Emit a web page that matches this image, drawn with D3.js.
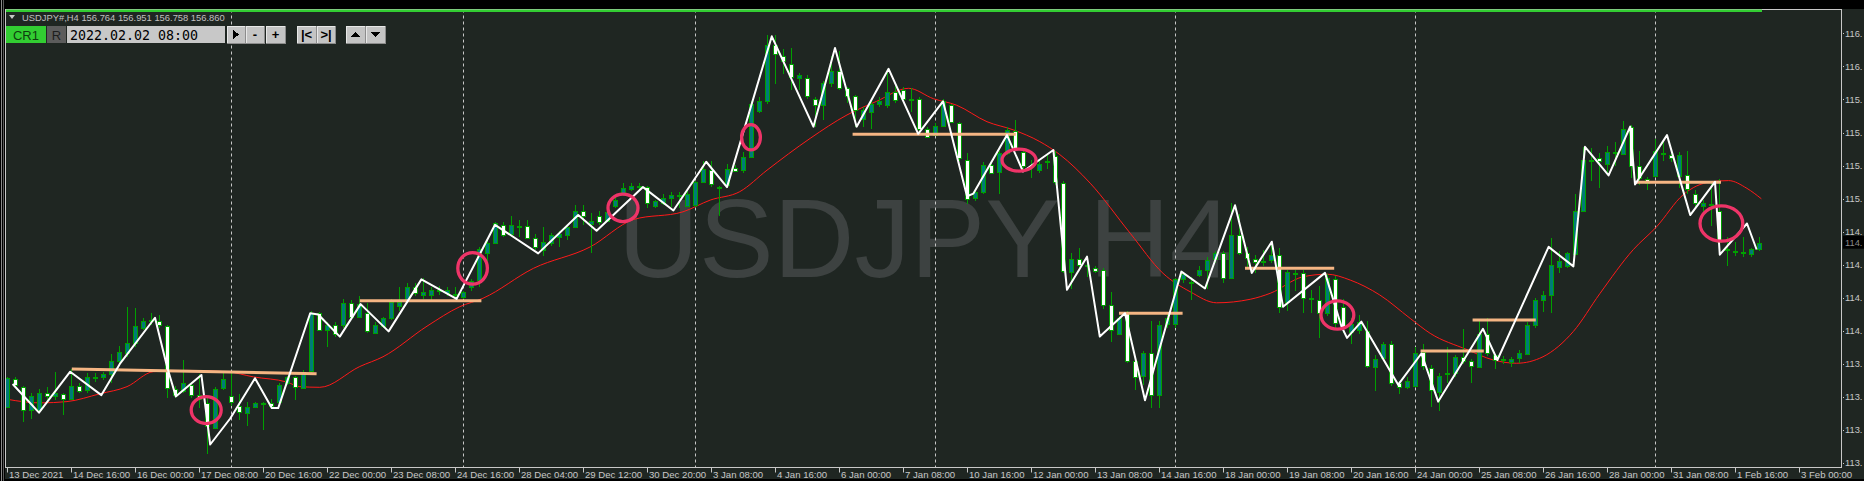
<!DOCTYPE html>
<html><head><meta charset="utf-8">
<script src="https://cdn.jsdelivr.net/npm/d3@7"></script>
<style>html,body{margin:0;padding:0;background:#000;overflow:hidden}svg{display:block}</style>
</head><body>
<svg id="c" width="1864" height="481"></svg>
<script>
// ---------------- DATA ----------------
const symbolHeader = "USDJPY#,H4  156.764 156.951 156.758 156.860";
const watermark = "USDJPY H4";
const replayDate = "2022.02.02 08:00";

const opens = [113.49,113.70,113.64,113.46,113.47,113.60,113.58,113.59,113.55,113.65,
113.62,113.72,113.72,113.74,113.84,113.90,113.98,114.10,114.15,114.15,
114.11,113.63,113.61,113.66,113.58,113.52,113.33,113.63,113.57,113.50,
113.44,113.49,113.52,113.52,113.53,113.67,113.72,113.63,113.76,114.21,
114.08,114.12,114.12,114.29,114.18,114.21,114.06,114.11,114.18,114.27,
114.31,114.41,114.35,114.35,114.39,114.37,114.35,114.33,114.41,114.46,
114.67,114.75,114.89,114.82,114.88,114.88,114.79,114.70,114.75,114.80,
114.81,114.88,115.00,114.90,114.96,114.92,115.03,115.12,115.17,115.18,
115.18,115.03,115.06,115.10,115.12,115.04,115.04,115.22,115.31,115.18,
115.20,115.33,115.31,115.41,115.76,115.84,116.27,116.19,116.13,116.02,
116.02,115.86,115.81,115.98,116.07,115.94,115.88,115.70,115.76,115.82,
115.81,115.91,115.93,115.86,115.86,115.63,115.58,115.65,115.81,115.67,
115.39,115.09,115.14,115.35,115.29,115.44,115.61,115.45,115.34,115.31,
115.37,115.42,115.21,114.53,114.63,114.58,114.56,114.54,114.27,114.05,
114.21,113.84,113.72,113.90,113.58,114.12,114.12,114.47,114.45,114.50,
114.54,114.62,114.67,114.48,114.81,114.67,114.63,114.61,114.62,114.66,
114.30,114.52,114.52,114.33,114.31,114.21,114.47,114.26,114.07,114.08,
114.07,113.80,113.86,113.97,113.67,113.64,113.65,113.91,113.79,113.61,
113.74,113.75,113.87,113.84,113.80,114.05,113.89,113.85,113.84,113.86,
113.90,114.12,114.31,114.35,114.56,114.57,114.67,115.00,115.39,115.40,
115.36,115.44,115.44,115.64,115.34,115.24,115.27,115.44,115.43,115.27,
115.27,115.13,115.04,115.04,115.00,114.69,114.68,114.68,114.66,114.70];

const highs = [113.72,113.72,113.65,113.60,113.63,113.64,113.76,113.60,113.78,113.67,
113.75,113.75,113.76,113.90,113.96,114.26,114.25,114.17,114.21,114.20,
114.12,113.65,113.85,113.68,113.74,113.56,113.64,113.75,113.76,113.59,
113.53,113.53,113.53,113.55,113.67,113.73,113.73,113.77,114.23,114.22,
114.14,114.14,114.32,114.31,114.34,114.29,114.14,114.18,114.32,114.41,
114.44,114.44,114.48,114.41,114.42,114.41,114.41,114.38,114.47,114.72,
114.77,114.91,114.91,114.96,114.93,114.93,114.82,114.87,114.83,114.84,
114.89,115.04,115.04,114.98,115.00,115.01,115.11,115.21,115.21,115.21,
115.19,115.08,115.13,115.14,115.14,115.15,115.23,115.38,115.38,115.19,
115.36,115.35,115.45,115.84,115.87,116.35,116.35,116.24,116.25,116.06,
116.04,115.87,116.00,116.19,116.23,115.95,115.89,115.80,115.85,115.87,
116.09,115.96,115.95,115.94,115.87,115.64,115.67,115.86,115.82,115.68,
115.44,115.15,115.37,115.37,115.46,115.64,115.70,115.46,115.39,115.40,
115.43,115.46,115.23,114.67,114.71,114.65,114.57,114.56,114.37,114.19,
114.23,113.85,113.92,114.15,114.15,114.21,114.48,114.52,114.49,114.57,
114.64,114.69,114.69,115.06,114.97,114.72,114.66,114.70,114.75,114.71,
114.54,114.54,114.54,114.39,114.42,114.51,114.50,114.32,114.17,114.20,
114.15,113.89,113.99,114.00,113.69,113.72,113.95,113.97,113.81,113.75,
113.95,113.89,114.09,113.86,114.15,114.17,113.90,113.88,113.87,113.93,
114.14,114.33,114.38,114.79,114.69,114.68,115.13,115.49,115.48,115.44,
115.50,115.53,115.69,115.66,115.46,115.26,115.55,115.54,115.45,115.45,
115.46,115.16,115.08,115.23,115.24,114.80,114.76,114.80,114.71,114.80];

const lows = [113.48,113.64,113.37,113.40,113.44,113.52,113.54,113.43,113.54,113.60,
113.60,113.68,113.70,113.67,113.83,113.87,113.95,114.08,114.12,114.10,
113.56,113.56,113.60,113.56,113.48,113.13,113.32,113.62,113.50,113.39,
113.34,113.48,113.31,113.47,113.52,113.66,113.54,113.63,113.75,114.07,
113.95,114.03,114.10,114.17,114.17,114.06,114.05,114.10,114.16,114.23,
114.29,114.34,114.32,114.31,114.35,114.34,114.33,114.32,114.38,114.41,
114.61,114.74,114.80,114.80,114.80,114.78,114.70,114.65,114.73,114.72,
114.77,114.87,114.89,114.67,114.89,114.91,115.02,115.11,115.15,115.15,
115.02,115.02,115.04,115.03,115.02,115.03,115.03,115.21,115.18,114.96,
115.17,115.30,115.29,115.41,115.75,115.82,115.97,116.05,115.93,115.93,
115.86,115.64,115.70,115.95,115.93,115.83,115.64,115.64,115.63,115.80,
115.79,115.83,115.84,115.76,115.58,115.56,115.57,115.64,115.67,115.38,
115.05,115.07,115.13,115.28,115.13,115.43,115.47,115.32,115.25,115.29,
115.32,115.20,114.52,114.40,114.56,114.49,114.52,114.24,113.99,114.04,
113.83,113.62,113.66,113.48,113.48,114.10,114.10,114.44,114.31,114.49,
114.40,114.60,114.44,114.47,114.66,114.56,114.52,114.57,114.60,114.21,
114.23,114.38,114.21,114.21,114.02,114.19,114.10,114.06,113.97,114.05,
113.79,113.61,113.84,113.65,113.59,113.63,113.64,113.77,113.49,113.46,
113.67,113.72,113.82,113.67,113.79,113.88,113.78,113.82,113.80,113.83,
113.89,114.10,114.22,114.21,114.52,114.56,114.66,114.99,115.23,115.17,
115.27,115.34,115.43,115.25,115.20,115.16,115.26,115.38,115.37,115.17,
115.13,115.03,114.98,114.88,114.67,114.57,114.65,114.64,114.64,114.69];

const closes = [113.71,113.65,113.46,113.57,113.60,113.58,113.60,113.55,113.65,113.61,
113.72,113.72,113.74,113.84,113.91,113.98,114.11,114.15,114.16,114.12,
113.63,113.58,113.67,113.58,113.55,113.34,113.63,113.70,113.52,113.45,
113.49,113.52,113.52,113.50,113.66,113.72,113.64,113.74,114.21,114.08,
114.12,114.05,114.29,114.18,114.28,114.07,114.12,114.17,114.30,114.30,
114.41,114.36,114.37,114.39,114.39,114.39,114.36,114.37,114.46,114.70,
114.75,114.90,114.81,114.89,114.88,114.79,114.72,114.76,114.81,114.82,
114.87,115.00,114.96,114.92,114.91,114.99,115.08,115.17,115.19,115.19,
115.06,115.07,115.10,115.12,115.11,115.13,115.22,115.32,115.20,115.17,
115.32,115.31,115.41,115.82,115.84,116.27,116.20,116.15,116.03,116.04,
115.88,115.81,115.98,116.07,115.94,115.88,115.77,115.77,115.82,115.84,
115.91,115.85,115.86,115.86,115.63,115.57,115.65,115.84,115.68,115.40,
115.09,115.14,115.35,115.29,115.44,115.62,115.48,115.34,115.33,115.36,
115.38,115.22,114.53,114.63,114.58,114.57,114.54,114.27,114.08,114.17,
113.84,113.72,113.90,113.58,114.12,114.17,114.47,114.51,114.44,114.54,
114.62,114.67,114.48,114.81,114.67,114.63,114.61,114.61,114.66,114.26,
114.53,114.52,114.33,114.32,114.21,114.48,114.13,114.11,114.13,114.14,
113.80,113.86,113.97,113.67,113.64,113.69,113.90,113.80,113.62,113.73,
113.75,113.87,113.84,113.80,114.05,113.90,113.85,113.86,113.86,113.90,
114.12,114.31,114.35,114.58,114.61,114.67,115.00,115.39,115.39,115.38,
115.45,115.45,115.63,115.34,115.25,115.21,115.46,115.43,115.41,115.43,
115.16,115.06,115.06,115.05,114.76,114.70,114.69,114.67,114.70,114.75];

const xTickBars = [0,8,16,24,32,40,48,56,64,72,80,88,96,104,112,120,128,136,144,152,160,168,176,184,192,200,208,216,224];
const xTickLabels = ["13 Dec 2021","14 Dec 16:00","16 Dec 00:00","17 Dec 08:00","20 Dec 16:00","22 Dec 00:00","23 Dec 08:00","24 Dec 16:00","28 Dec 04:00","29 Dec 12:00","30 Dec 20:00","3 Jan 08:00","4 Jan 16:00","6 Jan 00:00","7 Jan 08:00","10 Jan 16:00","12 Jan 00:00","13 Jan 08:00","14 Jan 16:00","18 Jan 00:00","19 Jan 08:00","20 Jan 16:00","24 Jan 00:00","25 Jan 08:00","26 Jan 16:00","28 Jan 00:00","31 Jan 08:00","1 Feb 16:00","3 Feb 00:00"];
const separatorBars = [28,57,86,116,146,176,206];
// price-axis ticks and the (truncated) labels the terminal shows for them
const priceTicks = [116.363,116.109,115.855,115.600,115.346,115.092,114.838,114.583,114.329,114.075,113.821,113.567,113.312,113.058];
const priceTickLabels = ["116.","116.","115.","115.","115.","115.","114.","114.","114.","114.","113.","113.","113.","113."];
const lastPrice = 114.76;
const lastPriceLabel = "114.";

// white zig-zag line (bar index, price)
const zigBars = [0.7,4.0,7.9,11.8,14.1,18.5,20.0,21.1,24.3,25.4,27.9,31.0,33.1,33.9,37.9,38.9,41.6,44.2,47.7,51.8,56.2,61.0,66.4,71.4,73.7,79.5,83.3,87.4,90.0,95.6,100.8,103.5,106.2,110.2,113.9,117.0,120.0,120.8,125.0,127.0,130.8,132.5,135.0,136.6,139.75,142.25,146.8,149.75,153.5,155.6,158.1,159.5,164.75,166.8,167.5,169.3,173.9,176.8,178.9,184.5,186.3,192.7,195.8,197.25,200.2,202.9,203.5,207.5,210.4,213.5,214.1,217.5,218.7];
const zigPrices = [113.665,113.445,113.76,113.58,113.82,114.175,113.80,113.57,113.735,113.20,113.40,113.71,113.48,113.48,114.21,114.20,114.03,114.28,114.07,114.47,114.32,114.89,114.67,114.965,114.845,115.18,115.00,115.375,115.18,116.34,115.645,116.25,115.645,116.09,115.59,115.84,115.11,115.13,115.58,115.30,115.465,114.39,114.645,114.03,114.21,113.54,114.53,114.40,115.04,114.52,114.76,114.26,114.52,114.11,114.02,114.145,113.66,113.90,113.53,114.09,113.85,114.72,114.57,115.49,115.27,115.645,115.20,115.58,114.965,115.22,114.66,114.90,114.70];

// red moving-average line (bar index, price)
const maBars = [0,4.1,7.5,11.6,15.0,18.3,22.5,27.5,30.8,35.0,36.6,39.1,44.1,47.0,52.5,56.6,59.5,65.8,72.9,78.3,84.5,87.9,91.6,95.0,100.4,105.0,108.7,112.7,115.8,118.7,122.5,125.8,129.1,131.6,135.4,140.4,144.5,147.9,151.2,155.4,157.9,162.0,165.0,167.9,171.6,175.4,177.9,182.5,185.8,188.7,192.0,195.8,199.1,203.3,206.2,209.5,212.9,215.2,217.5,219.3];
const maPrices = [113.548,113.52,113.53,113.59,113.645,113.76,113.77,113.76,113.72,113.68,113.645,113.64,113.80,113.875,114.11,114.26,114.325,114.555,114.72,114.93,114.99,115.08,115.145,115.31,115.555,115.735,115.84,115.94,115.86,115.81,115.683,115.62,115.53,115.43,115.21,114.825,114.517,114.375,114.29,114.317,114.363,114.49,114.51,114.465,114.35,114.17,114.055,113.93,113.85,113.825,113.875,114.07,114.36,114.70,114.875,115.12,115.22,115.23,115.17,115.09];

// orange horizontal levels
const levelStartBars = [8.1,44.1,105.7,139.0,154.75,176.7,183.2,203.5];
const levelEndBars   = [38.7,59.3,126.1,146.95,165.9,184.6,191.1,214.25];
const levelStartPrices = [113.78,114.306,115.586,114.21,114.555,113.92,114.158,115.217];
const levelEndPrices   = [113.745,114.306,115.586,114.21,114.555,113.92,114.158,115.217];

// pink circle markers (centre)
const markerBars = [24.9,58.2,77.0,93.0,126.5,166.3,214.3];
const markerPrices = [113.465,114.555,115.02,115.563,115.388,114.196,114.90];

// ---------------- STYLE ----------------
const markerRadii = [[15,13.5],[14.8,15.8],[15,13.7],[9.4,12.6],[17,11],[16.4,14.2],[21.4,17.6]];
const C = {bg:"#1f2622", grid:"#c8c8c8", up:"#007b78", down:"#ffffff", wick:"#00a000",
  ma:"#ff1a1a", zig:"#ffffff", level:"#f5b583", marker:"#ee3468", text:"#c8c8c8", water:"#3d4241"};
const FONT = "'Liberation Sans', Arial, sans-serif";

// ---------------- DRAW ----------------
const svg = d3.select("#c");
const x = d3.scaleLinear().domain([0, 224]).range([7, 1799]);
const y = d3.scaleLinear().domain([113.0, 116.5]).range([470.5, 15.5]);
const plot = {l:5.5, r:1841.5, t:9.5, b:467.5};

svg.append("rect").attr("width",1864).attr("height",481).attr("fill",C.bg);
svg.append("rect").attr("width",1864).attr("height",9).attr("fill","#000");
svg.append("rect").attr("y",479).attr("width",1864).attr("height",2).attr("fill","#000");
svg.append("rect").attr("width",5).attr("height",481).attr("fill","#000");
svg.append("line").attr("x1",1.5).attr("x2",1.5).attr("y1",0).attr("y2",481).attr("stroke","#8a8a8a");
svg.append("line").attr("x1",3.5).attr("x2",3.5).attr("y1",0).attr("y2",481).attr("stroke","#5a5a5a");

svg.append("defs").append("clipPath").attr("id","pc").append("rect")
  .attr("x",plot.l).attr("y",plot.t).attr("width",plot.r-plot.l).attr("height",plot.b-plot.t);

// watermark
svg.append("text").attr("x",618).attr("y",277).attr("font-family",FONT).attr("font-size",112)
  .attr("fill",C.water).text(watermark);

const g = svg.append("g").attr("clip-path","url(#pc)");

// weekly separators
g.selectAll("line.sep").data(separatorBars).join("line").attr("class","sep")
  .attr("x1",d=>Math.round(x(d))+0.5).attr("x2",d=>Math.round(x(d))+0.5)
  .attr("y1",plot.t).attr("y2",plot.b).attr("stroke",C.grid).attr("stroke-dasharray","3,3");

// moving average
const maLine = d3.line().x(d=>x(d[0])).y(d=>y(d[1])).curve(d3.curveMonotoneX);
g.append("path").attr("d",maLine(maBars.map((b,i)=>[b,maPrices[i]])))
  .attr("fill","none").attr("stroke",C.ma).attr("stroke-width",1);

// candles
const bars = opens.map((o,i)=>({i,o,h:highs[i],l:lows[i],c:closes[i]}));
const cg = g.append("g").attr("shape-rendering","crispEdges");
cg.selectAll("line.w").data(bars).join("line").attr("class","w")
  .attr("x1",d=>Math.round(x(d.i))+0.5).attr("x2",d=>Math.round(x(d.i))+0.5)
  .attr("y1",d=>y(d.h)).attr("y2",d=>y(d.l)).attr("stroke",C.wick);
cg.selectAll("rect.b").data(bars).join("rect").attr("class","b")
  .attr("x",d=>Math.round(x(d.i))-2+0.5)
  .attr("y",d=>Math.round(y(Math.max(d.o,d.c)))+0.5)
  .attr("width",4)
  .attr("height",d=>Math.max(1,Math.round(Math.abs(y(d.o)-y(d.c)))))
  .attr("fill",d=>d.c>=d.o?C.up:C.down).attr("stroke",C.wick).attr("stroke-width",1);

// orange levels
g.selectAll("line.lv").data(levelStartBars).join("line").attr("class","lv")
  .attr("x1",(d)=>x(d)).attr("x2",(d,i)=>x(levelEndBars[i]))
  .attr("y1",(d,i)=>y(levelStartPrices[i])).attr("y2",(d,i)=>y(levelEndPrices[i]))
  .attr("stroke",C.level).attr("stroke-width",3);

// zig-zag
const zl = d3.line().x(d=>x(d[0])).y(d=>y(d[1]));
g.append("path").attr("d",zl(zigBars.map((b,i)=>[b,zigPrices[i]])))
  .attr("fill","none").attr("stroke",C.zig).attr("stroke-width",2).attr("stroke-linejoin","round");

// markers
g.selectAll("ellipse").data(markerBars).join("ellipse")
  .attr("cx",d=>x(d)).attr("cy",(d,i)=>y(markerPrices[i]))
  .attr("rx",(d,i)=>markerRadii[i][0]).attr("ry",(d,i)=>markerRadii[i][1])
  .attr("fill","none").attr("stroke",C.marker).attr("stroke-width",3.3);

// frame
svg.append("rect").attr("x",plot.l).attr("y",plot.t).attr("width",plot.r-plot.l).attr("height",plot.b-plot.t)
  .attr("fill","none").attr("stroke","#c8c8c8").attr("shape-rendering","crispEdges");
// top green bar
svg.append("rect").attr("x",6).attr("y",9.5).attr("width",1756).attr("height",2.5).attr("fill","#32cd32");

// x axis
const xa = svg.append("g");
xa.selectAll("line").data(xTickBars).join("line")
  .attr("x1",d=>Math.round(x(d))+0.5).attr("x2",d=>Math.round(x(d))+0.5)
  .attr("y1",plot.b).attr("y2",plot.b+5).attr("stroke","#c8c8c8");
xa.selectAll("text").data(xTickBars).join("text")
  .attr("x",d=>Math.round(x(d))+2).attr("y",477.5).attr("font-family",FONT).attr("font-size",9.6)
  .attr("fill",C.text).text((d,i)=>xTickLabels[i]);

// y axis
const ya = svg.append("g");
ya.selectAll("rect").data(priceTicks).join("rect")
  .attr("x",1843).attr("y",d=>Math.round(y(d))).attr("width",1).attr("height",1).attr("fill","#c8c8c8");
ya.selectAll("text").data(priceTicks).join("text")
  .attr("x",1845).attr("y",d=>y(d)+3.5).attr("font-family",FONT).attr("font-size",9.3)
  .attr("fill",C.text).text((d,i)=>priceTickLabels[i]);
const ly = y(lastPrice);
svg.append("rect").attr("x",1843).attr("y",ly-6).attr("width",21).attr("height",13).attr("fill","#000");
svg.append("text").attr("x",1845).attr("y",ly+4).attr("font-family",FONT).attr("font-size",9.3)
  .attr("fill","#8a8a8a").text(lastPriceLabel);

// header
svg.append("path").attr("d","M9,15 L15,15 L12,19 Z").attr("fill","#c8c8c8");
svg.append("text").attr("x",22).attr("y",21).attr("font-family",FONT).attr("font-size",9.4)
  .attr("fill","#c0c0c0").text(symbolHeader);

// toolbar
const tb = svg.append("g").attr("shape-rendering","crispEdges");
tb.append("rect").attr("x",6).attr("y",26).attr("width",40).attr("height",17).attr("fill","#32cd32");
tb.append("text").attr("x",26).attr("y",39.5).attr("text-anchor","middle").attr("font-family",FONT).attr("font-size",13).attr("fill","#0f3d0f").text("CR1");
tb.append("rect").attr("x",47).attr("y",26).attr("width",19).attr("height",17).attr("fill","#5c5c5c");
tb.append("text").attr("x",56.5).attr("y",39.5).attr("text-anchor","middle").attr("font-family",FONT).attr("font-size",13).attr("fill","#1e1e1e").text("R");
tb.append("rect").attr("x",67).attr("y",26).attr("width",158).attr("height",17).attr("fill","#c8c8c8");
tb.append("text").attr("x",70).attr("y",39.5).attr("font-family","'DejaVu Sans Mono', monospace").attr("font-size",13.3).attr("fill","#000").text(replayDate);
const btns = [[227,18,"play"],[246,18,"-"],[266,19,"+"],[297,19,"|<"],[317,18,">|"],[346,19,"up"],[366,19,"down"]];
btns.forEach(([bx,bw,lab])=>{
  tb.append("rect").attr("x",bx).attr("y",26).attr("width",bw).attr("height",17).attr("fill","#c4c4c4");
  tb.append("path").attr("d",`M${bx},43 V26 H${bx+bw}`).attr("fill","none").attr("stroke","#e8e8e8");
  tb.append("path").attr("d",`M${bx},43 H${bx+bw} V26`).attr("fill","none").attr("stroke","#8c8c8c");
  const cx = bx+bw/2;
  if(lab==="play") tb.append("path").attr("d",`M${cx-3},30 L${cx+3},34.5 L${cx-3},39 Z`).attr("fill","#000");
  else if(lab==="up") tb.append("path").attr("d",`M${cx-5},37 L${cx+5},37 L${cx},32 Z`).attr("fill","#000");
  else if(lab==="down") tb.append("path").attr("d",`M${cx-5},32 L${cx+5},32 L${cx},37 Z`).attr("fill","#000");
  else tb.append("text").attr("x",cx).attr("y",39).attr("text-anchor","middle").attr("font-family",FONT)
        .attr("font-size",13).attr("font-weight","bold").attr("fill","#000").text(lab);
});
</script>
</body></html>
